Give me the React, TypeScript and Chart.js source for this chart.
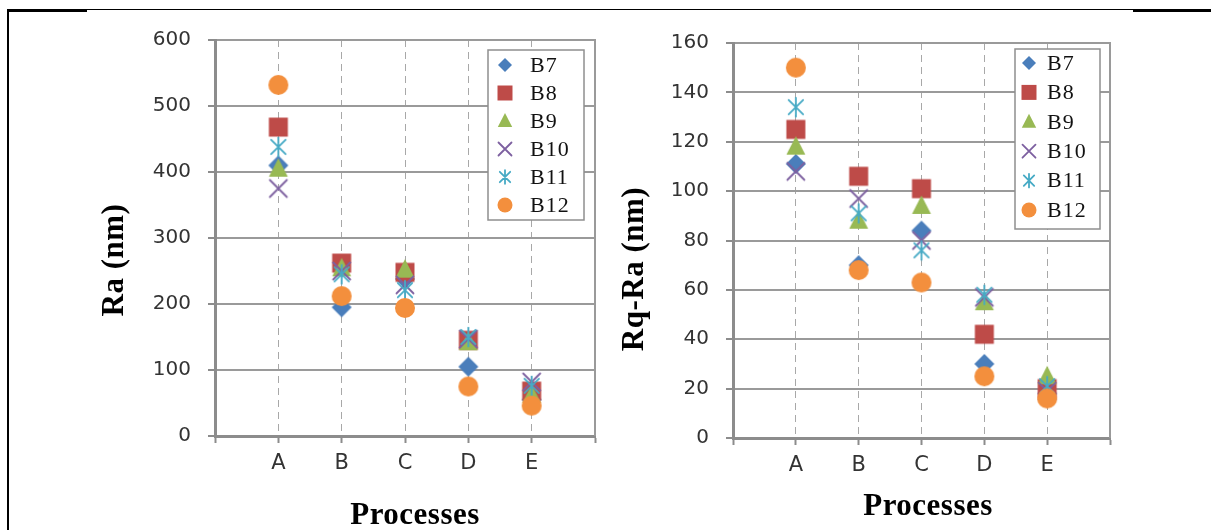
import React, { useEffect, useRef } from 'react';
import { Chart, registerables } from 'chart.js';

Chart.register(...registerables);

// ---------- data ----------
const categories = ['A', 'B', 'C', 'D', 'E'];
const seriesNames = ['B7', 'B8', 'B9', 'B10', 'B11', 'B12'];

// Ra (nm)
const raB7 = [410, 195, 238, 105, 55];
const raB8 = [468, 262, 248, 145, 68];
const raB9 = [405, 254, 252, 142, 62];
const raB10 = [375, 250, 229, 147, 82];
const raB11 = [438, 245, 221, 150, 76];
const raB12 = [532, 212, 194, 75, 46];

// Rq-Ra (nm)
const rqB7 = [111, 70, 84, 30, 18];
const rqB8 = [125, 106, 101, 42, 20];
const rqB9 = [118, 88, 94, 55, 25];
const rqB10 = [108, 97, 80, 57, 19];
const rqB11 = [134, 91, 76, 58, 21];
const rqB12 = [150, 68, 63, 25, 16];

const raMax = 600;
const raStep = 100;
const rqMax = 160;
const rqStep = 20;

const raTitle = 'Ra (nm)';
const rqTitle = 'Rq-Ra (nm)';
const xTitle = 'Processes';

// ---------- styles ----------
const seriesColors = ['#4A7EBB', '#BE4B48', '#98B954', '#7D60A0', '#46AAC5', '#F38F3D'];
const seriesKinds = ['diamond', 'square', 'triangle', 'x', 'asterisk', 'circle'];
const plotSizes = [10, 9.5, 10.5, 8.5, 9, 10];
const legendSizes = [7, 7.5, 8, 6.5, 6.5, 7.5];

const CANVAS_H = 530;
const tickFont = { family: '"DejaVu Sans", sans-serif', size: 20 };
const xTickFont = { family: '"DejaVu Sans", sans-serif', size: 21 };
const titleFont = 'bold 31px "Liberation Serif", "DejaVu Serif", serif';
const legendFont = '22px "Liberation Serif", "DejaVu Serif", serif';

function drawMarker(g: CanvasRenderingContext2D, kind: string, x: number, y: number, h: number, color: string) {
  g.save();
  g.fillStyle = color;
  g.strokeStyle = color;
  g.lineCap = 'round';
  g.beginPath();
  switch (kind) {
    case 'diamond':
      g.moveTo(x, y - h);
      g.lineTo(x + h, y);
      g.lineTo(x, y + h);
      g.lineTo(x - h, y);
      g.closePath();
      g.fill();
      break;
    case 'square':
      g.rect(x - h, y - h, 2 * h, 2 * h);
      g.fill();
      break;
    case 'triangle':
      g.moveTo(x, y - h);
      g.lineTo(x + h * 0.9, y + h * 0.75);
      g.lineTo(x - h * 0.9, y + h * 0.75);
      g.closePath();
      g.fill();
      break;
    case 'x':
      g.lineWidth = 1.8;
      g.moveTo(x - h, y - h);
      g.lineTo(x + h, y + h);
      g.moveTo(x + h, y - h);
      g.lineTo(x - h, y + h);
      g.stroke();
      break;
    case 'asterisk':
      g.lineWidth = 1.8;
      g.moveTo(x - h * 0.8, y - h * 0.8);
      g.lineTo(x + h * 0.8, y + h * 0.8);
      g.moveTo(x + h * 0.8, y - h * 0.8);
      g.lineTo(x - h * 0.8, y + h * 0.8);
      g.moveTo(x, y - h * 1.05);
      g.lineTo(x, y + h * 1.05);
      g.stroke();
      break;
    default:
      g.arc(x, y, h, 0, Math.PI * 2);
      g.fill();
  }
  g.restore();
}

function markerCanvas(kind: string, h: number, color: string) {
  const size = Math.ceil(h * 2 + 6) + (Math.ceil(h * 2 + 6) % 2);
  const c = document.createElement('canvas');
  c.width = size;
  c.height = size;
  const g = c.getContext('2d')!;
  drawMarker(g, kind, size / 2, size / 2, h, color);
  return c;
}

type Panel = {
  values: number[][];
  yMax: number;
  yStep: number;
  canvasW: number;
  area: { left: number; top: number; right: number; bottom: number };
  yTitle: string;
  yTitlePos: { x: number; y: number };
  xTitlePos: { x: number; y: number };
  legend: { left: number; top: number; right: number; bottom: number; markerX: number; textX: number; y0: number; step: number };
};

function buildChart(canvas: HTMLCanvasElement, p: Panel) {
  const n = categories.length;
  const datasets = seriesNames.map((name, i) => ({
    label: name,
    data: p.values[i].map((v, j) => ({ x: j + 1, y: v })),
    showLine: false,
    pointStyle: markerCanvas(seriesKinds[i], plotSizes[i], seriesColors[i]),
    pointRadius: 10,
    order: seriesNames.length - 1 - i,
  }));

  const overlay = {
    id: 'overlay',
    beforeDatasetsDraw(chart: any) {
      const { ctx, chartArea: a } = chart;
      ctx.save();
      ctx.strokeStyle = '#9a9a9a';
      ctx.lineWidth = 2;
      ctx.beginPath();
      ctx.moveTo(a.right, a.top - 1);
      ctx.lineTo(a.right, a.bottom);
      ctx.stroke();
      ctx.restore();
    },
    afterDraw(chart: any) {
      const { ctx } = chart;
      const L = p.legend;
      ctx.save();
      ctx.fillStyle = '#ffffff';
      ctx.fillRect(L.left, L.top, L.right - L.left, L.bottom - L.top);
      ctx.strokeStyle = '#8f8f8f';
      ctx.lineWidth = 1.5;
      ctx.strokeRect(L.left, L.top, L.right - L.left, L.bottom - L.top);
      ctx.font = legendFont;
      ctx.textBaseline = 'middle';
      ctx.textAlign = 'left';
      (ctx as any).letterSpacing = '1px';
      seriesNames.forEach((name, i) => {
        const y = L.y0 + i * L.step;
        drawMarker(ctx, seriesKinds[i], L.markerX, y, legendSizes[i], seriesColors[i]);
        ctx.fillStyle = '#111';
        ctx.fillText(name, L.textX, y + 1);
      });
      // axis titles
      (ctx as any).letterSpacing = '0.5px';
      ctx.fillStyle = '#000';
      ctx.font = titleFont;
      ctx.textAlign = 'center';
      ctx.textBaseline = 'middle';
      ctx.fillText(xTitle, p.xTitlePos.x, p.xTitlePos.y);
      ctx.save();
      ctx.translate(p.yTitlePos.x, p.yTitlePos.y);
      ctx.rotate(-Math.PI / 2);
      ctx.fillText(p.yTitle, 0, 0);
      ctx.restore();
      (ctx as any).letterSpacing = '0px';
      ctx.restore();
    },
  };

  return new Chart(canvas, {
    type: 'scatter',
    data: { datasets: datasets as any },
    options: {
      animation: false,
      responsive: false,
      events: [],
      layout: { padding: { left: 0, top: p.area.top, right: p.canvasW - p.area.right, bottom: 0 } },
      plugins: { legend: { display: false }, tooltip: { enabled: false } },
      scales: {
        x: {
          type: 'linear',
          min: 0,
          max: n + 1,
          ticks: {
            stepSize: 1,
            autoSkip: false,
            maxRotation: 0,
            padding: 8,
            font: xTickFont,
            color: '#333',
            callback: (v: any) => categories[Number(v) - 1] ?? '',
          },
          grid: {
            color: (c: any) => (c.tick && c.tick.value > 0 && c.tick.value < n + 1 ? '#a8a8a8' : 'rgba(0,0,0,0)'),
            lineWidth: 1,
            tickColor: '#8c8c8c',
            tickLength: 7,
            tickWidth: 2,
          },
          border: { display: true, color: '#8c8c8c', width: 3, dash: [7, 5] },
          afterFit: (s: any) => {
            s.height = CANVAS_H - p.area.bottom;
          },
        },
        y: {
          min: 0,
          max: p.yMax,
          ticks: { stepSize: p.yStep, padding: 17, font: tickFont, color: '#333' },
          grid: { color: '#9a9a9a', lineWidth: 2, tickLength: 7, tickColor: '#8c8c8c' },
          border: { display: true, color: '#8c8c8c', width: 3 },
          afterFit: (s: any) => {
            s.width = p.area.left;
          },
        },
      },
    },
    plugins: [overlay as any],
  });
}

const RIGHT_X = 610;

export default function App() {
  const leftRef = useRef<HTMLCanvasElement>(null);
  const rightRef = useRef<HTMLCanvasElement>(null);

  useEffect(() => {
    const left: Panel = {
      values: [raB7, raB8, raB9, raB10, raB11, raB12],
      yMax: raMax,
      yStep: raStep,
      canvasW: 610,
      area: { left: 215, top: 40, right: 595, bottom: 436 },
      yTitle: raTitle,
      yTitlePos: { x: 115, y: 260 },
      xTitlePos: { x: 415, y: 516 },
      legend: { left: 488, top: 50, right: 584, bottom: 220, markerX: 505, textX: 530, y0: 65, step: 28 },
    };
    const right: Panel = {
      values: [rqB7, rqB8, rqB9, rqB10, rqB11, rqB12],
      yMax: rqMax,
      yStep: rqStep,
      canvasW: 601,
      area: { left: 733 - RIGHT_X, top: 43, right: 1110 - RIGHT_X, bottom: 438 },
      yTitle: rqTitle,
      yTitlePos: { x: 635 - RIGHT_X, y: 269 },
      xTitlePos: { x: 928 - RIGHT_X, y: 507 },
      legend: {
        left: 1015 - RIGHT_X, top: 49, right: 1100 - RIGHT_X, bottom: 229,
        markerX: 1029 - RIGHT_X, textX: 1047 - RIGHT_X, y0: 63, step: 29.4,
      },
    };
    const charts = [buildChart(leftRef.current!, left), buildChart(rightRef.current!, right)];
    return () => charts.forEach((c) => c.destroy());
  }, []);

  return (
    <div style={{ position: 'absolute', left: 0, top: 0, width: 1211, height: 530, background: '#fff', overflow: 'hidden' }}>
      <canvas ref={leftRef} width={610} height={530} style={{ position: 'absolute', left: 0, top: 0, width: 610, height: 530 }} />
      <canvas ref={rightRef} width={601} height={530} style={{ position: 'absolute', left: RIGHT_X, top: 0, width: 601, height: 530 }} />
      <div style={{ position: 'absolute', left: 7, top: 9, width: 2, height: 521, background: '#000' }} />
      <div style={{ position: 'absolute', left: 7, top: 9, width: 1204, height: 1, background: '#000' }} />
      <div style={{ position: 'absolute', left: 7, top: 9, width: 80, height: 3, background: '#000' }} />
      <div style={{ position: 'absolute', left: 1133, top: 9, width: 78, height: 3, background: '#000' }} />
    </div>
  );
}
